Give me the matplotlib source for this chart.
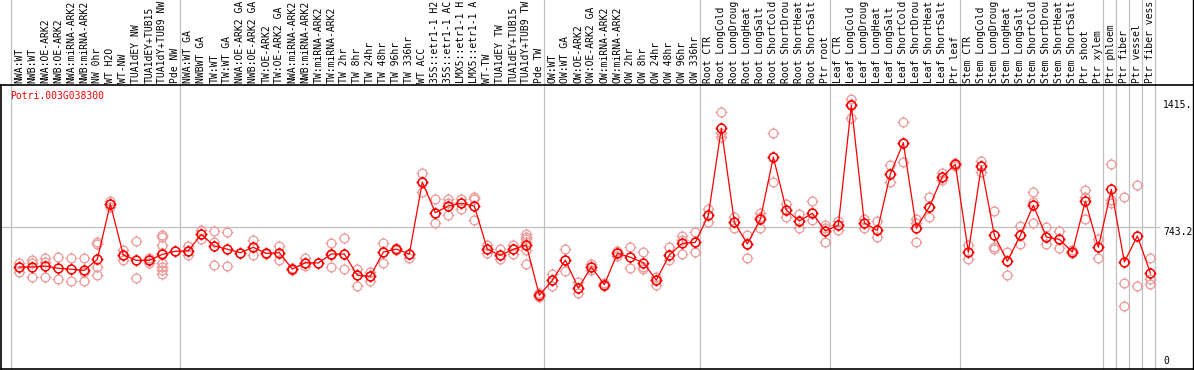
import numpy as np
import matplotlib
matplotlib.use("Agg")
import matplotlib.pyplot as plt
from matplotlib.path import Path
from matplotlib.lines import Line2D
from matplotlib.transforms import blended_transform_factory

# sample names as far as they are visible in the header
labels = [
    "NWA:WT", "NWB:WT", "NWA:OE-ARK2", "NWB:OE-ARK2", "NWA:miRNA-ARK2", "NWB:miRNA-ARK2",
    "NW 0hr", "WT H2O", "WT-NW", "TUA1dEY NW", "TUA1dEY+TUB15", "TUA1dY+TUB9 NW", "Pde NW",
    "NWA:WT GA", "NWBWT GA", "TW:WT", "TW:WT GA", "NWA:OE-ARK2 GA", "NWB:OE-ARK2 GA",
    "TW:OE-ARK2", "TW:OE-ARK2 GA", "NWA:miRNA-ARK2", "NWB:miRNA-ARK2", "TW:miRNA-ARK2",
    "TW:miRNA-ARK2", "TW 2hr", "TW 8hr", "TW 24hr", "TW 48hr", "TW 96hr", "TW 336hr",
    "WT ACC", "35S::etr1-1 H2", "35S::etr1-1 AC", "LMX5::etr1-1 H", "LMX5::etr1-1 A",
    "WT-TW", "TUA1dEY TW", "TUA1dEY+TUB15", "TUA1dY+TUB9 TW", "Pde TW",
    "OW:WT", "OW:WT GA", "OW:OE-ARK2", "OW:OE-ARK2 GA", "OW:miRNA-ARK2", "OW:miRNA-ARK2",
    "OW 2hr", "OW 8hr", "OW 24hr", "OW 48hr", "OW 96hr", "OW 336hr",
    "Root CTR", "Root LongCold", "Root LongDroug", "Root LongHeat", "Root LongSalt",
    "Root ShortCold", "Root ShortDrou", "Root ShortHeat", "Root ShortSalt", "Ptr root",
    "Leaf CTR", "Leaf LongCold", "Leaf LongDroug", "Leaf LongHeat", "Leaf LongSalt",
    "Leaf ShortCold", "Leaf ShortDrou", "Leaf ShortHeat", "Leaf ShortSalt", "Ptr leaf",
    "Stem CTR", "Stem LongCold", "Stem LongDroug", "Stem LongHeat", "Stem LongSalt",
    "Stem ShortCold", "Stem ShortDrou", "Stem ShortHeat", "Stem ShortSalt",
    "Ptr shoot", "Ptr xylem", "Ptr phloem", "Ptr fiber", "Ptr vessel", "Ptr fiber vess",
]

# mean expression per sample
means = [
    536, 536, 541, 529, 524, 518, 576, 867, 599, 571, 571, 602, 618,
    621, 707, 646, 629, 611, 639, 607, 611, 525, 558, 557, 604, 604, 492, 487, 614, 630,
    604, 982, 821, 856, 870, 856, 629, 597, 629, 651, 387,
    466, 572, 425, 536, 443, 607, 587, 558, 467, 599, 660, 665,
    807, 1264, 770, 657, 786, 1113, 835, 777, 818, 725,
    755, 1385, 767, 728, 1024, 1189, 741, 851, 1010, 1075,
    613, 1066, 702, 566, 702, 860, 693, 681, 614, 882, 639,
    944, 562, 699, 504,
]

# individual replicates
reps = [
    [558, 536, 511], [572, 558, 481], [585, 561, 481], [586, 471], [583, 460],
    [583, 511, 460], [665, 657, 536, 492], [882, 867, 853], [625, 599, 572],
    [672, 476], [585, 571, 557], [704, 695, 650, 608, 558, 537, 520, 497], [618],
    [646, 621, 600], [730, 707, 683], [723, 669, 546], [718, 541], [611],
    [678, 639, 597], [611, 602], [648, 611, 571], [532, 518],
    [585, 558, 541], [557], [660, 599, 537], [686, 604, 523], [523, 492, 434],
    [511, 487, 462], [660, 614, 555], [636, 624], [604, 585],
    [1028, 982, 930], [891, 821, 765], [891, 873, 807], [893, 870, 842],
    [902, 891, 783], [651, 629, 608], [629, 597, 576], [651, 629, 602],
    [707, 695, 683, 669, 651, 625, 551], [397, 383, 380],
    [501, 466, 438], [630, 572, 513], [459, 428, 397], [550, 536, 520],
    [452, 434], [620, 607, 595], [639, 529], [613, 537, 523], [485, 467, 443],
    [639, 599, 572], [699, 676, 604], [718, 665, 613],
    [842, 807, 774], [1348, 1240, 1220], [800, 770, 741], [704, 657, 581],
    [818, 800, 740], [1238, 1113, 980], [867, 835, 797], [814, 777, 741],
    [882, 818, 783], [756, 740, 665],
    [777, 755, 730], [1416, 1393, 1317], [790, 767, 741], [777, 728, 695],
    [1071, 1024, 984], [1296, 1189, 1089], [790, 765, 665], [902, 851, 797],
    [1028, 1010, 993], [1084, 1075, 1066],
    [650, 613, 576], [1094, 1066, 1036], [830, 642, 628], [613, 566, 492],
    [751, 702, 657], [928, 879, 765], [744, 693, 657], [727, 681, 636],
    [623, 614, 607], [940, 905, 790], [681, 639, 585],
    [1077, 885, 870], [902, 450, 331], [965, 434], [581, 471, 445],
]

group_starts = [0, 13, 41, 53, 63, 73, 84, 85, 86, 87, 88]
gene = "Potri.003G038300"
max_label = "1415."
mid_value = 743.2

mono = "DejaVu Sans Mono"
fs = 7.0

# circle marker with four small ticks
circ = Path.unit_circle()
tick_paths = [Path([(0, 1), (0, 1.35)]), Path([(0, -1), (0, -1.35)]),
              Path([(1, 0), (1.35, 0)]), Path([(-1, 0), (-1.35, 0)])]
marker_path = Path.make_compound_path(circ, *tick_paths)

fig = plt.figure(figsize=(11.94, 3.70), dpi=100)
ax = fig.add_axes([1 / 1194, 1 / 370, 1192 / 1194, 284 / 370])

x = np.arange(len(labels))
ax.set_xlim(-1.408, 90.28)
ax.set_ylim(0, 1491.6)

# grid lines
for s in group_starts:
    ax.axvline(s - 0.64, ymin=0, ymax=369 / 284, color="#c0c0c0", lw=0.9,
               clip_on=False, zorder=1)
ax.hlines(mid_value, -1.408, 87.75, color="#c0c0c0", lw=0.9, zorder=1)

# replicates
for i, r in enumerate(reps):
    ax.plot([i] * len(r), r, linestyle="", marker=marker_path, ms=8.5,
            mfc="none", mec="#ec9a9a", mew=0.9, zorder=2)

# means
ax.plot(x, means, color="red", lw=0.9, zorder=3)
ax.plot(x, means, linestyle="", marker=marker_path, ms=8.5, mfc="none",
        mec="red", mew=1.1, zorder=4)

# sample labels above the plot
trans = blended_transform_factory(ax.transData, ax.transAxes)
for i, lab in enumerate(labels):
    ax.text(i, 1 + 2 / 284, lab, rotation=90, ha="center", va="bottom",
            transform=trans, family=mono, fontsize=fs, clip_on=False)

# value labels on the right
ax.text(87.98, 1415, max_label, ha="left", va="top", family=mono, fontsize=fs)
ax.text(87.98, mid_value, f"{mid_value}", ha="left", va="top", family=mono, fontsize=fs)
ax.text(87.98, 18, "0", ha="left", va="bottom", family=mono, fontsize=fs)

fig.text(10 / 1194, 1 - 91 / 370, gene, color="red", ha="left", va="top",
         family=mono, fontsize=fs)

ax.set_xticks([])
ax.set_yticks([])
for side in ["left", "bottom", "top"]:
    ax.spines[side].set_color("black")
    ax.spines[side].set_linewidth(1.2)
ax.spines["right"].set_visible(False)
fig.add_artist(Line2D([1193 / 1194, 1193 / 1194], [0, 1], color="black", lw=1.0,
                      transform=fig.transFigure))

fig.savefig("out.png", dpi=100)
